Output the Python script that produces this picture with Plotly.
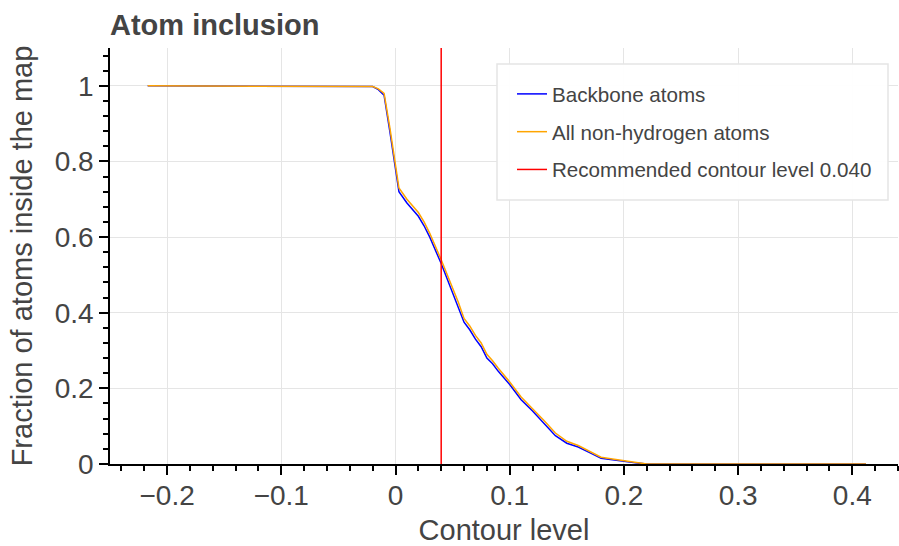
import plotly.graph_objects as go

# Contour level (x) and fraction of atoms inside the map
contour = [-0.217, -0.03, -0.02, -0.015, -0.01, -0.005, 0.0, 0.003, 0.01, 0.02,
           0.025, 0.03, 0.04, 0.05, 0.055, 0.06, 0.065, 0.07, 0.075, 0.08,
           0.085, 0.09, 0.10, 0.11, 0.12, 0.13, 0.14, 0.15, 0.16, 0.17,
           0.18, 0.19, 0.20, 0.21, 0.22, 0.412]
backbone = [1.0, 1.0, 0.998, 0.99, 0.975, 0.88, 0.78, 0.72, 0.69, 0.655,
            0.63, 0.60, 0.53, 0.455, 0.415, 0.375, 0.355, 0.33, 0.31, 0.28,
            0.265, 0.245, 0.21, 0.17, 0.14, 0.108, 0.075, 0.055, 0.045, 0.03,
            0.015, 0.011, 0.006, 0.003, 0.0, 0.0]
all_heavy = [1.0, 1.0, 0.998, 0.992, 0.98, 0.89, 0.79, 0.73, 0.70, 0.665,
             0.64, 0.61, 0.54, 0.468, 0.428, 0.385, 0.365, 0.34, 0.32, 0.29,
             0.273, 0.253, 0.217, 0.177, 0.147, 0.115, 0.082, 0.06, 0.049, 0.034,
             0.018, 0.013, 0.008, 0.004, 0.0, 0.0]
recommended_level = 0.040
y_span = [0.0, 1.1]

x_ticks = [-0.2, -0.1, 0, 0.1, 0.2, 0.3, 0.4]
x_tick_text = ["\u22120.2", "\u22120.1", "0", "0.1", "0.2", "0.3", "0.4"]
y_ticks = [0, 0.2, 0.4, 0.6, 0.8, 1]
y_tick_text = ["0", "0.2", "0.4", "0.6", "0.8", "1"]

FONT = "Liberation Sans, Arial, Helvetica, sans-serif"
TXT = "#444444"

# plot area in pixels (for legend placement)
L, R, T, B = 110, 898, 48, 464
PW, PH = R - L, B - T

fig = go.Figure()
fig.add_trace(go.Scatter(x=contour, y=backbone, mode="lines", name="Backbone atoms",
                         legendgroup="a", line=dict(color="blue", width=1.5)))
fig.add_trace(go.Scatter(x=contour, y=all_heavy, mode="lines", name="All non-hydrogen atoms",
                         legendgroup="b", line=dict(color="orange", width=1.5)))
fig.add_trace(go.Scatter(x=[recommended_level, recommended_level], y=y_span, mode="lines",
                         name="Recommended contour level %.3f" % recommended_level,
                         legendgroup="c", line=dict(color="red", width=1.5)))

axis_common = dict(
    showline=True, linecolor="black", linewidth=1.5,
    ticks="outside", ticklen=9, tickwidth=1.5, tickcolor="black",
    showgrid=True, gridcolor="#e5e5e5", gridwidth=1,
    zeroline=False, automargin=False,
    tickfont=dict(family=FONT, size=28, color=TXT),
    title_font=dict(family=FONT, size=29, color=TXT),
)

fig.update_xaxes(
    range=[-0.25, 0.44], tickvals=x_ticks, ticktext=x_tick_text,
    title_text="Contour level", title_standoff=15, ticklabelstandoff=-3,
    minor=dict(dtick=0.02, ticks="outside", ticklen=5, tickwidth=1.5,
               tickcolor="black", showgrid=False, tick0=0),
    **axis_common,
)
fig.update_yaxes(
    range=[0, 1.1], tickvals=y_ticks, ticktext=y_tick_text,
    title_text="Fraction of atoms inside the map", title_standoff=14,
    minor=dict(dtick=0.04, ticks="outside", ticklen=5, tickwidth=1.5,
               tickcolor="black", showgrid=False, tick0=0),
    **axis_common,
)

# legend frame
fig.add_shape(type="rect", xref="paper", yref="paper", layer="above",
              x0=(497 - L) / PW, x1=(888 - L) / PW,
              y0=(B - 200) / PH, y1=(B - 64) / PH,
              fillcolor="rgba(255,255,255,0.95)",
              line=dict(color="#e5e5e5", width=1.5))

fig.update_layout(
    width=899, height=546,
    margin=dict(l=L, r=899 - R, t=T, b=546 - B, autoexpand=False),
    plot_bgcolor="white", paper_bgcolor="white",
    title=dict(text="<b>Atom inclusion</b>", x=110/899, xanchor="left", xref="container",
               y=1 - 24.5/546, yanchor="middle", yref="container",
               font=dict(family=FONT, size=29, color=TXT)),
    legend=dict(x=(512 - L) / PW, xanchor="left", y=(B - 74) / PH, yanchor="top",
                bgcolor="rgba(0,0,0,0)", borderwidth=0,
                font=dict(family=FONT, size=20.6, color=TXT),
                itemwidth=30, tracegroupgap=8),
    showlegend=True,
)

fig.write_html("out.html")
